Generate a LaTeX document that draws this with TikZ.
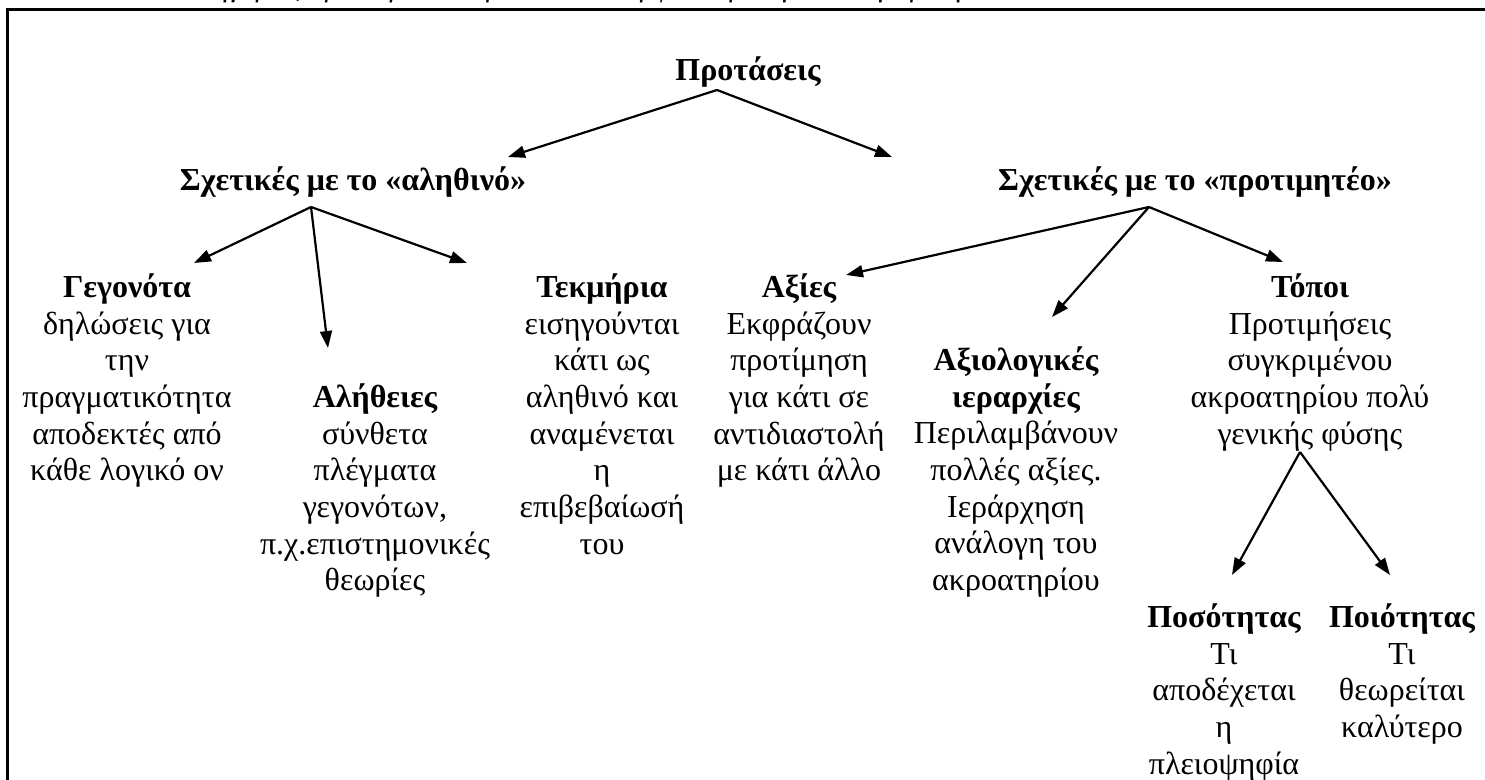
\documentclass[tikz,border=0pt]{standalone}
\usepackage{fontspec}
\setmainfont{Liberation Serif}
\usetikzlibrary{arrows.meta}
\begin{document}
\begin{tikzpicture}[x=0.5pt,y=-0.5pt,
  txt/.style={font=\fontsize{16}{18.35}\selectfont, align=center, inner sep=0pt, anchor=north},
  hd/.style={font=\fontsize{16}{18.35}\selectfont\bfseries, inner sep=0pt, anchor=base},
  arr/.style={line width=1.1pt, -{Triangle[length=8.5pt,width=6pt]}},
  frame/.style={line width=1.15pt}
]
\useasboundingbox (0,0) rectangle (1485,780);
\fill[white] (0,0) rectangle (1485,780);
% caption (cut off at the top)
\node[hd, font=\fontsize{15}{18}\selectfont\itshape] (cap) at (566,-3.5) {Κατηγορίες προκειμένων προτάσεων σύμφωνα με τη Νέα Ρητορική};
\draw[frame] (7.5,780) -- (7.5,9.5) -- (1485,9.5);

% nodes
\node[hd] (prot) at (748,81) {Προτάσεις};
\node[hd] (alith) at (353,191) {Σχετικές με το «αληθινό»};
\node[hd] (protim) at (1195,191) {Σχετικές με το «προτιμητέο»};

\node[txt] (geg) at (127,271.3) {\strut{\bfseries Γεγονότα}\\δηλώσεις για\\την\\πραγματικότητα\\αποδεκτές από\\κάθε λογικό ον};
\node[txt] (alh) at (375,381.3) {\strut{\bfseries Αλήθειες}\\σύνθετα\\πλέγματα\\γεγονότων,\\π.χ.επιστημονικές\\θεωρίες};
\node[txt] (tek) at (602,271.3) {\strut{\bfseries Τεκμήρια}\\εισηγούνται\\κάτι ως\\αληθινό και\\αναμένεται\\η\\επιβεβαίωσή\\του};
\node[txt] (axi) at (799,271.3) {\strut{\bfseries Αξίες}\\Εκφράζουν\\προτίμηση\\για κάτι σε\\αντιδιαστολή\\με κάτι άλλο};
\node[txt] (ier) at (1016,344.3) {\strut{\bfseries Αξιολογικές}\\{\bfseries ιεραρχίες}\\Περιλαμβάνουν\\πολλές αξίες.\\Ιεράρχηση\\ανάλογη του\\ακροατηρίου};
\node[txt] (top) at (1310,271.3) {\strut{\bfseries Τόποι}\\Προτιμήσεις\\συγκριμένου\\ακροατηρίου πολύ\\γενικής φύσης};
\node[txt] (pos) at (1224,601.3) {\strut{\bfseries Ποσότητας}\\Τι\\αποδέχεται\\η\\πλειοψηφία};
\node[txt] (poi) at (1402,601.3) {\strut{\bfseries Ποιότητας}\\Τι\\θεωρείται\\καλύτερο};

% connector ends
\coordinate (prot-o) at (717,90);
\coordinate (alith-i) at (508,157);
\coordinate (protim-i) at (892,157);
\coordinate (alith-o) at (311,207);
\coordinate (geg-i) at (194,263);
\coordinate (alh-i) at (328,348);
\coordinate (tek-i) at (467,263);
\coordinate (protim-o) at (1149,207);
\coordinate (axi-i) at (846,275);
\coordinate (ier-i) at (1052,317);
\coordinate (top-i) at (1283,262);
\coordinate (top-o) at (1300,452);
\coordinate (pos-i) at (1232,575);
\coordinate (poi-i) at (1390,575);

\draw[arr] (prot-o) -- (alith-i);
\draw[arr] (prot-o) -- (protim-i);
\draw[arr] (alith-o) -- (geg-i);
\draw[arr] (alith-o) -- (alh-i);
\draw[arr] (alith-o) -- (tek-i);
\draw[arr] (protim-o) -- (axi-i);
\draw[arr] (protim-o) -- (ier-i);
\draw[arr] (protim-o) -- (top-i);
\draw[arr] (top-o) -- (pos-i);
\draw[arr] (top-o) -- (poi-i);
\end{tikzpicture}
\end{document}
